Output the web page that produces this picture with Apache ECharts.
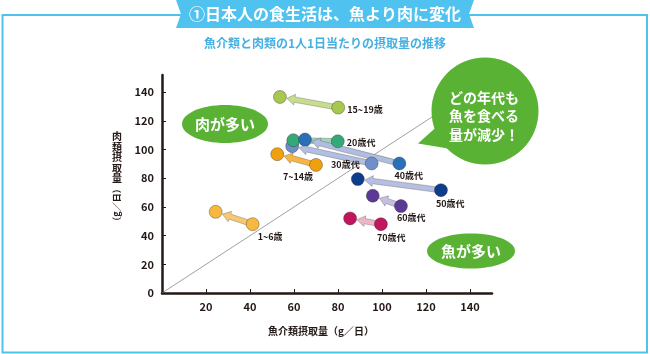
<!DOCTYPE html>
<html>
<head>
<meta charset="utf-8">
<script src="https://cdn.jsdelivr.net/npm/echarts@6/dist/echarts.min.js"></script>
<style>
  html, body { margin: 0; padding: 0; background: #fff; }
  #main { width: 650px; height: 354px; }
</style>
</head>
<body>
<div id="main"></div>
<script>
// 年代区分
var ages = ['1~6歳', '7~14歳', '15~19歳', '20歳代', '30歳代', '40歳代', '50歳代', '60歳代', '70歳代'];
// 以前の摂取量（魚介類, 肉類）
var fishBefore = [41.2, 70.0, 80.1, 79.9, 95.3, 107.9, 126.8, 108.6, 99.5];
var meatBefore = [48.0, 89.3, 129.3, 105.8, 90.3, 90.3, 71.7, 60.6, 48.0];
// 現在の摂取量（魚介類, 肉類）
var fishAfter = [24.4, 52.4, 53.6, 59.7, 59.2, 65.0, 89.0, 95.8, 85.5];
var meatAfter = [56.6, 96.8, 136.7, 106.5, 102.4, 107.0, 79.4, 67.8, 52.0];
// 目盛り
var xTicks = [20, 40, 60, 80, 100, 120, 140];
var yTicks = [0, 20, 40, 60, 80, 100, 120, 140];

var dotColors = ['#f6b83e', '#f0a00c', '#a6c84f', '#33a97a', '#6f8fca', '#2b6fb8', '#0e3d8c', '#5b3a97', '#c0165f'];
var arrowColors = ['#f5c878', '#f5b548', '#c6dc8e', '#a3d2bc', '#b0bfe2', '#aebde0', '#b6bfe2', '#c6bfe0', '#ebb6c6'];
// ラベル位置 [align, dx, dy]
var labelPos = [
  ['left', 5, 12], ['center', -18, 12], ['left', 9, 2], ['left', 9, 1], ['right', -12, 1],
  ['left', -5, 12], ['left', -5, 13], ['left', -4, 11], ['left', -4, 13]
];
var FONT = '"Noto Sans CJK JP", "Noto Sans", sans-serif';
var DARK = '#231815';
var GREEN = '#5ab234';

var chart = echarts.init(document.getElementById('main'));

var arrowData = [], oldData = [], newData = [];
for (var i = 0; i < ages.length; i++) {
  arrowData.push([fishBefore[i], meatBefore[i], fishAfter[i], meatAfter[i], i]);
  oldData.push({
    value: [fishBefore[i], meatBefore[i]],
    name: ages[i],
    itemStyle: { color: dotColors[i] },
    label: { align: labelPos[i][0], offset: [labelPos[i][1], labelPos[i][2]] }
  });
  newData.push({ value: [fishAfter[i], meatAfter[i]], itemStyle: { color: dotColors[i] } });
}
// 重なり順
var newOrder = [0, 1, 2, 4, 3, 5, 6, 7, 8];
newData = newOrder.map(function (k) { return newData[k]; });

function renderArrow(params, api) {
  var p0 = api.coord([api.value(0), api.value(1)]);
  var p1 = api.coord([api.value(2), api.value(3)]);
  var idx = api.value(4);
  var dx = p1[0] - p0[0], dy = p1[1] - p0[1];
  var len = Math.sqrt(dx * dx + dy * dy);
  var ux = dx / len, uy = dy / len, nx = -uy, ny = ux;
  var r = 7, sw = 2.7, hw = 5.5, hl = 8;
  var tip = [p1[0] - ux * r, p1[1] - uy * r];
  var base = [tip[0] - ux * hl, tip[1] - uy * hl];
  var pts = [
    [p0[0] + nx * sw, p0[1] + ny * sw],
    [base[0] + nx * sw, base[1] + ny * sw],
    [base[0] + nx * hw, base[1] + ny * hw],
    tip,
    [base[0] - nx * hw, base[1] - ny * hw],
    [base[0] - nx * sw, base[1] - ny * sw],
    [p0[0] - nx * sw, p0[1] - ny * sw]
  ];
  return {
    type: 'polygon',
    shape: { points: pts },
    style: { fill: arrowColors[idx], stroke: 'rgba(60,50,40,0.55)', lineWidth: 0.5 }
  };
}

var option = {
  animation: false,
  textStyle: { fontFamily: FONT },
  grid: { left: 162, top: 75, width: 330, bottom: 61 },
  xAxis: {
    type: 'value', min: 0, max: 150,
    name: '魚介類摂取量（g／日）', nameLocation: 'middle', nameGap: 33,
    nameTextStyle: { color: DARK, fontSize: 10, fontWeight: 'bold', padding: [0, 12, 0, 0] },
    axisLine: { lineStyle: { color: DARK, width: 2.5 } },
    axisTick: { inside: true, length: 4, lineStyle: { color: DARK, width: 1 }, customValues: xTicks },
    axisLabel: { color: DARK, fontSize: 11, fontWeight: 'bold', margin: 8, customValues: xTicks },
    splitLine: { show: false }
  },
  yAxis: {
    type: 'value', min: 0, max: 152,
    axisLine: { lineStyle: { color: DARK, width: 2.5 } },
    axisTick: { inside: true, length: 4, lineStyle: { color: DARK, width: 1 }, customValues: yTicks },
    axisLabel: { color: DARK, fontSize: 11, fontWeight: 'bold', margin: 8, customValues: yTicks },
    splitLine: { show: false }
  },
  series: [
    {
      type: 'line', silent: true, symbol: 'none', z: 1,
      data: [[0, 0], [150, 150]],
      lineStyle: { color: '#777', width: 0.7 }
    },
    {
      type: 'custom', renderItem: renderArrow, z: 2,
      encode: { x: [0, 2], y: [1, 3] },
      data: arrowData
    },
    {
      type: 'scatter', symbolSize: 13, z: 3,
      itemStyle: { borderColor: 'rgba(50,40,30,0.6)', borderWidth: 0.6, opacity: 1 },
      label: {
        show: true, position: 'inside', formatter: '{b}',
        color: DARK, fontSize: 9, fontWeight: 'bold'
      },
      data: oldData
    },
    {
      type: 'scatter', symbolSize: 13, z: 4,
      itemStyle: { borderColor: 'rgba(50,40,30,0.6)', borderWidth: 0.6, opacity: 1 },
      data: newData
    }
  ],
  graphic: [
    { type: 'rect', z: 0, shape: { x: 2.5, y: 15, width: 644.5, height: 337.5 },
      style: { fill: null, stroke: '#50c2ef', lineWidth: 2 } },
    { type: 'polygon', z: 10,
      shape: { points: [[176, 0], [474, 0], [469, 14], [474, 28], [176, 28], [181, 14]] },
      style: { fill: '#50c2ef' } },
    { type: 'text', z: 11, x: 325, y: 14,
      style: { text: '①日本人の食生活は、魚より肉に変化', fill: '#fff', font: 'bold 16px ' + FONT,
        textAlign: 'center', textVerticalAlign: 'middle' } },
    { type: 'text', z: 11, x: 325, y: 43,
      style: { text: '魚介類と肉類の1人1日当たりの摂取量の推移', fill: '#46b0e2', font: 'bold 12px ' + FONT,
        textAlign: 'center', textVerticalAlign: 'middle' } },
    // 縦書きの軸名
    { type: 'text', z: 11, x: 117, y: 131,
      style: { text: '肉\n類\n摂\n取\n量', fill: DARK, font: 'bold 10px ' + FONT,
        lineHeight: 10.5, textAlign: 'center', textVerticalAlign: 'top' } },
    { type: 'text', z: 11, x: 117, y: 205, rotation: Math.PI / 2,
      style: { text: '（g／日）', fill: DARK, font: 'bold 9px ' + FONT,
        textAlign: 'center', textVerticalAlign: 'middle' } },
    // 吹き出し
    { type: 'ellipse', z: 20, shape: { cx: 225, cy: 124, rx: 43, ry: 19 }, style: { fill: GREEN } },
    { type: 'text', z: 21, x: 225, y: 124,
      style: { text: '肉が多い', fill: '#fff', font: 'bold 15px ' + FONT, textAlign: 'center', textVerticalAlign: 'middle' } },
    { type: 'ellipse', z: 20, shape: { cx: 471, cy: 251, rx: 44, ry: 17.5 }, style: { fill: GREEN } },
    { type: 'text', z: 21, x: 471, y: 251,
      style: { text: '魚が多い', fill: '#fff', font: 'bold 15px ' + FONT, textAlign: 'center', textVerticalAlign: 'middle' } },
    { type: 'circle', z: 20, shape: { cx: 485, cy: 111, r: 53.5 }, style: { fill: GREEN } },
    { type: 'polygon', z: 20, shape: { points: [[418, 143.5], [442, 122], [457, 150]] }, style: { fill: GREEN } },
    { type: 'text', z: 21, x: 484, y: 116,
      style: { text: 'どの年代も\n魚を食べる\n量が減少！', fill: '#fff', font: 'bold 14px ' + FONT,
        lineHeight: 18.5, textAlign: 'center', textVerticalAlign: 'middle' } }
  ]
};
chart.setOption(option);
</script>
</body>
</html>
